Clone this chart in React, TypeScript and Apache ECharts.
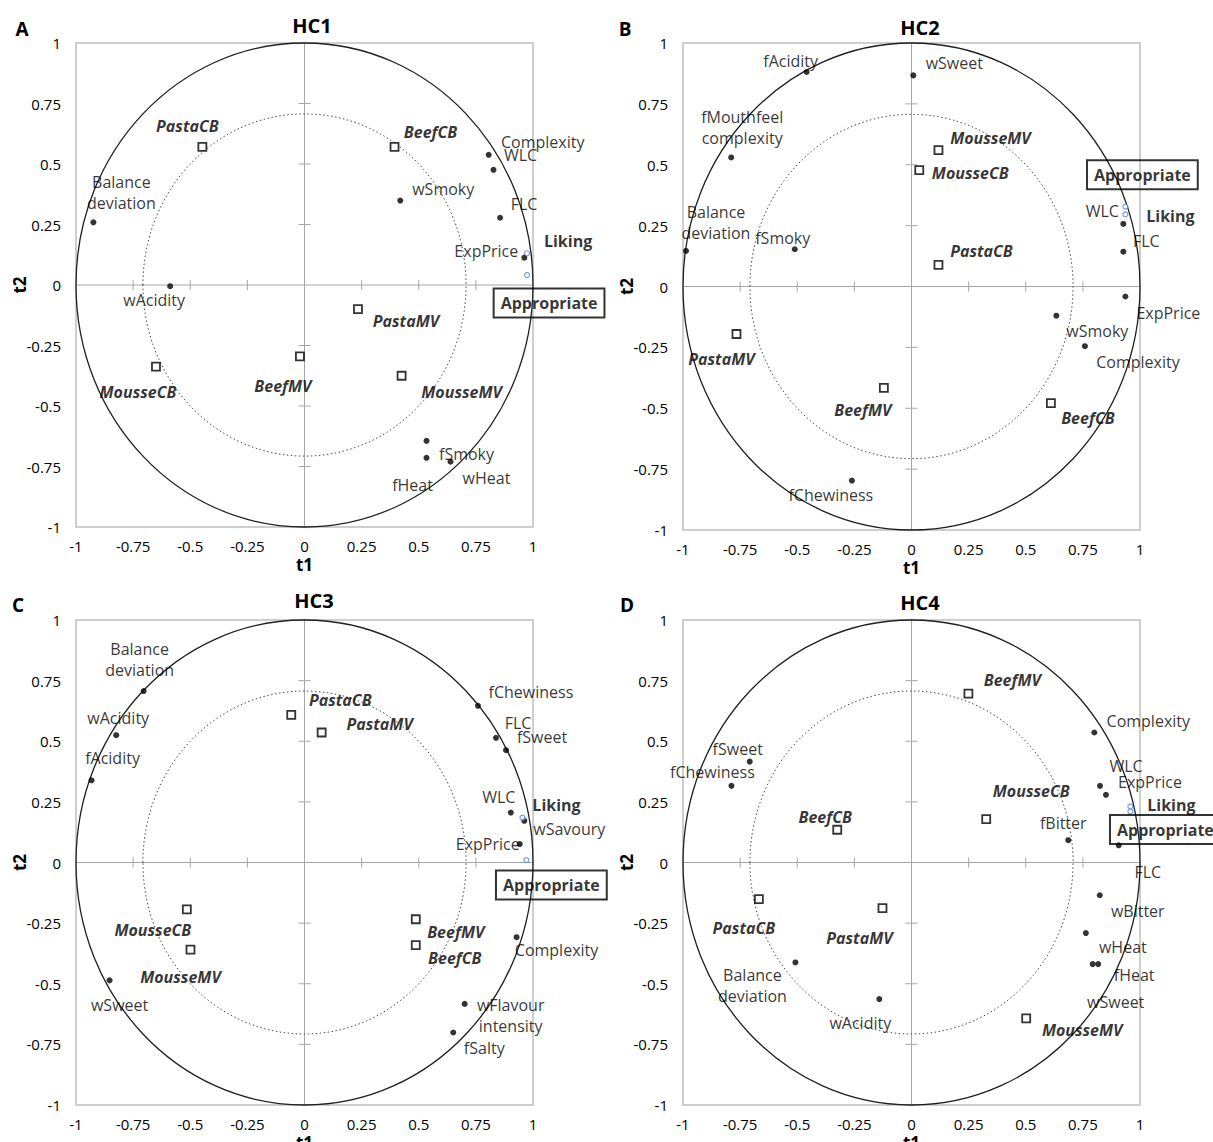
import React, { useEffect, useRef } from "react";
import * as echarts from "echarts";

const FONT = "'Open Sans', 'Liberation Sans', sans-serif";

const ticks = [-1, -0.75, -0.5, -0.25, 0, 0.25, 0.5, 0.75, 1];
const tickLabels = ["-1", "-0.75", "-0.5", "-0.25", "0", "0.25", "0.5", "0.75", "1"];
const innerRadius = 0.7071;

const panelLetters = ["A", "B", "C", "D"];
const panelTitles = ["HC1", "HC2", "HC3", "HC4"];
const xAxisTitle = "t1";
const yAxisTitle = "t2";

// ---------- HC1 ----------
const hc1AttrNames = ["Complexity", "WLC", "wSmoky", "FLC", "Balance deviation", "ExpPrice", "wAcidity", "fSmoky", "fHeat", "wHeat"];
const hc1AttrT1 = [0.806, 0.827, 0.419, 0.856, -0.924, 0.962, -0.588, 0.534, 0.534, 0.639];
const hc1AttrT2 = [0.538, 0.476, 0.349, 0.278, 0.259, 0.113, -0.005, -0.644, -0.714, -0.73];
const hc1ProdNames = ["PastaCB", "BeefCB", "PastaMV", "BeefMV", "MousseCB", "MousseMV"];
const hc1ProdT1 = [-0.447, 0.394, 0.234, -0.02, -0.65, 0.425];
const hc1ProdT2 = [0.571, 0.571, -0.1, -0.295, -0.337, -0.375];
const hc1ConsNames = ["Liking", "Appropriate"];
const hc1ConsT1 = [0.974, 0.974];
const hc1ConsT2 = [0.131, 0.041];

// ---------- HC2 ----------
const hc2AttrNames = ["fAcidity", "wSweet", "fMouthfeel complexity", "WLC", "FLC", "Balance deviation", "fSmoky", "ExpPrice", "wSmoky", "Complexity", "fChewiness"];
const hc2AttrT1 = [-0.459, 0.008, -0.789, 0.927, 0.927, -0.987, -0.511, 0.936, 0.634, 0.759, -0.261];
const hc2AttrT2 = [0.881, 0.867, 0.53, 0.257, 0.143, 0.146, 0.153, -0.041, -0.12, -0.245, -0.797];
const hc2ProdNames = ["MousseMV", "MousseCB", "PastaCB", "PastaMV", "BeefMV", "BeefCB"];
const hc2ProdT1 = [0.118, 0.034, 0.118, -0.766, -0.121, 0.61];
const hc2ProdT2 = [0.56, 0.478, 0.089, -0.195, -0.416, -0.479];
const hc2ConsNames = ["Liking", "Appropriate"];
const hc2ConsT1 = [0.936, 0.936];
const hc2ConsT2 = [0.296, 0.328];

// ---------- HC3 ----------
const hc3AttrNames = ["Balance deviation", "wAcidity", "fAcidity", "fChewiness", "FLC", "fSweet", "WLC", "wSavoury", "ExpPrice", "wSweet", "Complexity", "wFlavour intensity", "fSalty"];
const hc3AttrT1 = [-0.704, -0.824, -0.932, 0.759, 0.838, 0.882, 0.903, 0.962, 0.942, -0.853, 0.928, 0.701, 0.651];
const hc3AttrT2 = [0.707, 0.525, 0.339, 0.646, 0.514, 0.463, 0.206, 0.172, 0.076, -0.486, -0.308, -0.583, -0.701];
const hc3ProdNames = ["PastaCB", "PastaMV", "MousseCB", "MousseMV", "BeefMV", "BeefCB"];
const hc3ProdT1 = [-0.058, 0.075, -0.515, -0.499, 0.487, 0.487];
const hc3ProdT2 = [0.609, 0.536, -0.193, -0.359, -0.234, -0.341];
const hc3ConsNames = ["Liking", "Appropriate"];
const hc3ConsT1 = [0.954, 0.971];
const hc3ConsT2 = [0.185, 0.01];

// ---------- HC4 ----------
const hc4AttrNames = ["Complexity", "fSweet", "fChewiness", "WLC", "ExpPrice", "fBitter", "FLC", "wBitter", "wHeat", "fHeat", "wSweet", "Balance deviation", "wAcidity"];
const hc4AttrT1 = [0.8, -0.708, -0.788, 0.825, 0.851, 0.686, 0.907, 0.824, 0.763, 0.817, 0.793, -0.508, -0.141];
const hc4AttrT2 = [0.536, 0.416, 0.316, 0.316, 0.279, 0.092, 0.071, -0.135, -0.291, -0.419, -0.419, -0.412, -0.563];
const hc4ProdNames = ["BeefMV", "MousseCB", "BeefCB", "PastaCB", "PastaMV", "MousseMV"];
const hc4ProdT1 = [0.249, 0.327, -0.325, -0.668, -0.127, 0.502];
const hc4ProdT2 = [0.696, 0.179, 0.135, -0.151, -0.188, -0.643];
const hc4ConsNames = ["Liking", "Appropriate"];
const hc4ConsT1 = [0.958, 0.958];
const hc4ConsT2 = [0.231, 0.21];

// ---------- label placement (pixel offsets from the mark) ----------
const hc1Offsets: Record<string, number[]> = {
  PastaCB: [-15, -21], BeefCB: [36, -15], Complexity: [54, -13], WLC: [27, -15], wSmoky: [43, -12],
  FLC: [24, -14], "Balance deviation": [28, -30], ExpPrice: [-38, -7], Liking: [41, -12], Appropriate: [22, 28],
  wAcidity: [-16, 14], PastaMV: [48, 12], BeefMV: [-17, 30], MousseCB: [-18, 25], MousseMV: [60, 16],
  fSmoky: [40, 13], fHeat: [-14, 27], wHeat: [36, 16],
};
const hc2Offsets: Record<string, number[]> = {
  fAcidity: [-16, -11], wSweet: [41, -12], "fMouthfeel complexity": [11, -30], MousseMV: [52, -12], MousseCB: [51, 3],
  Appropriate: [17, -32], Liking: [45, 2], WLC: [-21, -13], FLC: [23, -11], "Balance deviation": [30, -28],
  fSmoky: [-12, -11], PastaCB: [43, -14], ExpPrice: [43, 17], wSmoky: [41, 15], PastaMV: [-15, 25],
  Complexity: [53, 16], BeefMV: [-21, 22], BeefCB: [37, 15], fChewiness: [-21, 14],
};
const hc3Offsets: Record<string, number[]> = {
  "Balance deviation": [-4, -32], wAcidity: [2, -17], fAcidity: [21, -22], PastaCB: [49, -15], PastaMV: [58, -9],
  fChewiness: [53, -14], FLC: [22, -15], fSweet: [36, -13], WLC: [-12, -16], Liking: [34, -13],
  wSavoury: [45, 8], ExpPrice: [-32, 0], Appropriate: [25, 25], MousseCB: [-34, 21], MousseMV: [-10, 27],
  wSweet: [10, 25], BeefMV: [40, 13], BeefCB: [39, 13], Complexity: [40, 13], "wFlavour intensity": [46, 12],
  fSalty: [31, 16],
};
const hc4Offsets: Record<string, number[]> = {
  BeefMV: [44, -14], Complexity: [54, -12], fSweet: [-12, -13], fChewiness: [-19, -14], WLC: [26, -20],
  ExpPrice: [44, -13], MousseCB: [45, -28], BeefCB: [-12, -13], Liking: [41, -1], Appropriate: [35, 18],
  fBitter: [-5, -17], FLC: [29, 27], PastaCB: [-15, 29], PastaMV: [-23, 30], wBitter: [38, 16],
  wHeat: [37, 14], fHeat: [36, 11], wSweet: [23, 38], "Balance deviation": [-43, 23], wAcidity: [-19, 24],
  MousseMV: [56, 12],
};

const twoLineText: Record<string, string> = {
  "Balance deviation": "Balance\ndeviation",
  "fMouthfeel complexity": "fMouthfeel\ncomplexity",
  "wFlavour intensity": "wFlavour\nintensity",
};

const panels = [
  { attrN: hc1AttrNames, attrX: hc1AttrT1, attrY: hc1AttrT2, prodN: hc1ProdNames, prodX: hc1ProdT1, prodY: hc1ProdT2, consN: hc1ConsNames, consX: hc1ConsT1, consY: hc1ConsT2, off: hc1Offsets },
  { attrN: hc2AttrNames, attrX: hc2AttrT1, attrY: hc2AttrT2, prodN: hc2ProdNames, prodX: hc2ProdT1, prodY: hc2ProdT2, consN: hc2ConsNames, consX: hc2ConsT1, consY: hc2ConsT2, off: hc2Offsets },
  { attrN: hc3AttrNames, attrX: hc3AttrT1, attrY: hc3AttrT2, prodN: hc3ProdNames, prodX: hc3ProdT1, prodY: hc3ProdT2, consN: hc3ConsNames, consX: hc3ConsT1, consY: hc3ConsT2, off: hc3Offsets },
  { attrN: hc4AttrNames, attrX: hc4AttrT1, attrY: hc4AttrT2, prodN: hc4ProdNames, prodX: hc4ProdT1, prodY: hc4ProdT2, consN: hc4ConsNames, consX: hc4ConsT1, consY: hc4ConsT2, off: hc4Offsets },
];

const layouts = [
  { left: 76, top: 43, width: 457, height: 484 },
  { left: 683, top: 43, width: 457, height: 487 },
  { left: 76, top: 620, width: 457, height: 485 },
  { left: 683, top: 620, width: 457, height: 485 },
];
const letterPos = [[22, 29], [625, 29], [18, 605], [627, 605]];
const titlePos = [[312, 25], [920, 27], [314, 600], [920, 602]];

const tickFormatter = (v: number) => {
  const i = ticks.findIndex((t) => Math.abs(t - v) < 1e-9);
  return i >= 0 ? tickLabels[i] : "";
};

function buildOption() {
  const series: any[] = [];
  const graphic: any[] = [];
  const gray = "#a6a6a6";

  panels.forEach((p, i) => {
    series.push({
      type: "custom",
      xAxisIndex: i,
      yAxisIndex: i,
      data: [[0, 0]],
      silent: true,
      clip: false,
      z: 1,
      renderItem: (_params: any, api: any) => {
        const o = api.coord([0, 0]);
        const s = api.size([1, 1]);
        const l = api.coord([-1, 0]);
        const r = api.coord([1, 0]);
        const t = api.coord([0, 1]);
        const b = api.coord([0, -1]);
        const children: any[] = [
          { type: "line", shape: { x1: l[0], y1: o[1], x2: r[0], y2: o[1] }, style: { stroke: gray, lineWidth: 1 } },
          { type: "line", shape: { x1: o[0], y1: t[1], x2: o[0], y2: b[1] }, style: { stroke: gray, lineWidth: 1 } },
        ];
        ticks.forEach((v) => {
          if (v === 0 || Math.abs(v) === 1) return;
          const px = api.coord([v, 0]);
          children.push({ type: "line", shape: { x1: px[0], y1: o[1] - 5, x2: px[0], y2: o[1] + 5 }, style: { stroke: gray, lineWidth: 1 } });
          const py = api.coord([0, v]);
          children.push({ type: "line", shape: { x1: o[0] - 6, y1: py[1], x2: o[0] + 6, y2: py[1] }, style: { stroke: gray, lineWidth: 1 } });
        });
        children.push({ type: "ellipse", shape: { cx: o[0], cy: o[1], rx: s[0] * innerRadius, ry: s[1] * innerRadius }, style: { fill: "none", stroke: "#4a4a4a", lineWidth: 1, lineDash: [1.5, 2.5] } });
        children.push({ type: "ellipse", shape: { cx: o[0], cy: o[1], rx: s[0], ry: s[1] }, style: { fill: "none", stroke: "#1f1f1f", lineWidth: 1.3 } });
        return { type: "group", children };
      },
    });

    const baseLabel = {
      show: true,
      position: "inside",
      fontFamily: FONT,
      fontSize: 16,
      lineHeight: 21,
      color: "#000",
      align: "center",
      verticalAlign: "middle",
      textBorderWidth: 0,
      textBorderColor: "transparent",
      formatter: (q: any) => twoLineText[q.name] || q.name,
    };

    series.push({
      type: "scatter",
      xAxisIndex: i,
      yAxisIndex: i,
      z: 3,
      silent: true,
      symbol: "circle",
      symbolSize: 6,
      itemStyle: { color: "#000" },
      label: baseLabel,
      emphasis: { disabled: true },
      data: p.attrN.map((n, k) => ({ name: n, value: [p.attrX[k], p.attrY[k]], label: { offset: p.off[n] || [0, -12] } })),
    });

    series.push({
      type: "scatter",
      xAxisIndex: i,
      yAxisIndex: i,
      z: 4,
      silent: true,
      symbol: "rect",
      symbolSize: 8,
      itemStyle: { color: "#fff", borderColor: "#000", borderWidth: 1.8 },
      label: { ...baseLabel, fontWeight: "bold", fontStyle: "italic" },
      emphasis: { disabled: true },
      data: p.prodN.map((n, k) => ({ name: n, value: [p.prodX[k], p.prodY[k]], label: { offset: p.off[n] || [0, -12] } })),
    });

    series.push({
      type: "scatter",
      xAxisIndex: i,
      yAxisIndex: i,
      z: 5,
      silent: true,
      symbol: "circle",
      symbolSize: 5,
      itemStyle: { color: "#fff", borderColor: "#4a7be0", borderWidth: 1.1 },
      label: { ...baseLabel, fontWeight: "bold" },
      emphasis: { disabled: true },
      data: p.consN.map((n, k) => {
        const lab: any = { offset: p.off[n] || [0, -12] };
        if (n === "Appropriate") {
          lab.borderColor = "#000";
          lab.borderWidth = 2;
          lab.padding = [4, 7, 3, 7];
          lab.lineHeight = 22;
        }
        return { name: n, value: [p.consX[k], p.consY[k]], label: lab };
      }),
    });

    const g = layouts[i];
    graphic.push({
      type: "text",
      x: letterPos[i][0],
      y: letterPos[i][1],
      style: { text: panelLetters[i], font: `bold 19px ${FONT}`, fill: "#000", textAlign: "center", textVerticalAlign: "middle", align: "center", verticalAlign: "middle" },
    });
    graphic.push({
      type: "text",
      x: titlePos[i][0],
      y: titlePos[i][1],
      style: { text: panelTitles[i], font: `bold 20px ${FONT}`, fill: "#000", textAlign: "center", textVerticalAlign: "middle", align: "center", verticalAlign: "middle" },
    });
    graphic.push({
      type: "text",
      x: g.left + g.width / 2,
      y: g.top + g.height + 37,
      style: { text: xAxisTitle, font: `bold 17px ${FONT}`, fill: "#000", textAlign: "center", textVerticalAlign: "middle", align: "center", verticalAlign: "middle" },
    });
    graphic.push({
      type: "text",
      x: g.left - 57,
      y: g.top + g.height / 2,
      rotation: Math.PI / 2,
      style: { text: yAxisTitle, font: `bold 17px ${FONT}`, fill: "#000", textAlign: "center", textVerticalAlign: "middle", align: "center", verticalAlign: "middle" },
    });
  });

  return {
    animation: false,
    backgroundColor: "#fff",
    grid: layouts.map((g) => ({ ...g, show: true, borderColor: "#bfbfbf", borderWidth: 1.5, backgroundColor: "rgba(0,0,0,0)", containLabel: false })),
    xAxis: layouts.map((_g, i) => ({
      gridIndex: i,
      type: "value",
      min: -1,
      max: 1,
      interval: 0.25,
      axisLine: { show: false, onZero: false },
      axisTick: { show: false },
      splitLine: { show: false },
      axisLabel: { show: true, margin: 11, fontSize: 15, fontFamily: FONT, color: "#000", formatter: tickFormatter, showMinLabel: true, showMaxLabel: true },
    })),
    yAxis: layouts.map((_g, i) => ({
      gridIndex: i,
      type: "value",
      min: -1,
      max: 1,
      interval: 0.25,
      axisLine: { show: false, onZero: false },
      axisTick: { show: false },
      splitLine: { show: false },
      axisLabel: { show: true, margin: 15, fontSize: 15, fontFamily: FONT, color: "#000", formatter: tickFormatter, showMinLabel: true, showMaxLabel: true },
    })),
    series,
    graphic,
  };
}

export default function App() {
  const ref = useRef<HTMLDivElement>(null);
  useEffect(() => {
    if (!ref.current) return;
    const chart = echarts.init(ref.current, undefined, { renderer: "svg" });
    chart.setOption(buildOption() as any);
    return () => chart.dispose();
  }, []);
  return (
    <div
      ref={ref}
      style={{ position: "absolute", left: 0, top: 0, width: 1213, height: 1142, background: "#fff" }}
    />
  );
}
